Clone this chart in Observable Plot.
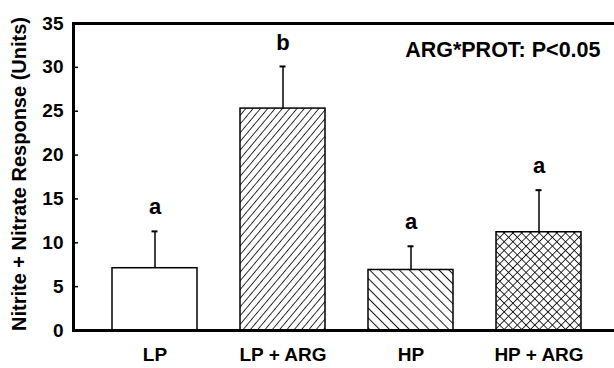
<!DOCTYPE html>
<html>
<head>
<meta charset="utf-8">
<script src="https://cdn.jsdelivr.net/npm/d3@7"></script>
<script src="https://cdn.jsdelivr.net/npm/@observablehq/plot@0.6"></script>
<style>
  html, body { margin: 0; padding: 0; background: #fff; overflow: hidden; }
</style>
</head>
<body>
<div id="chart"></div>
<script>
// ---- data ----
const categories = ["LP", "LP + ARG", "HP", "HP + ARG"];
const means = [7.1, 25.3, 6.9, 11.2];
const uppers = [11.3, 30.1, 9.6, 16.0];
const letters = ["a", "b", "a", "a"];
const yTicks = [0, 5, 10, 15, 20, 25, 30, 35];
const yLabel = "Nitrite + Nitrate Response (Units)";
const annotation = "ARG*PROT: P<0.05";

// ---- styles (kept apart from data) ----
const fillFor = {
  "LP": "white",
  "LP + ARG": "url(#hatchFwd)",
  "HP": "url(#hatchBack)",
  "HP + ARG": "url(#hatchCross)"
};

const rows = categories.map((c, i) => ({cat: c, mean: means[i], upper: uppers[i], letter: letters[i]}));

const font = "'Liberation Sans', Arial, Helvetica, sans-serif";

const plot = Plot.plot({
  width: 614,
  height: 368,
  marginLeft: 73,
  marginRight: 0,
  marginTop: 23,
  marginBottom: 38,
  style: {fontFamily: font, fontWeight: "bold", color: "black", background: "white", overflow: "visible"},
  x: {domain: categories, range: [73, 620], paddingInner: 0.333, paddingOuter: 0.287, label: null},
  y: {domain: [0, 35], label: null},
  color: {type: "identity"},
  marks: [
    Plot.barY(rows, {x: "cat", y: "mean", fill: d => fillFor[d.cat], stroke: "black", strokeWidth: 1.5}),
    Plot.ruleX(rows, {x: "cat", y1: "mean", y2: "upper", stroke: "black", strokeWidth: 1.5}),
    Plot.tickY(rows, {x: "cat", y: "upper", inset: 39.5, stroke: "black", strokeWidth: 2}),
    Plot.text(rows, {x: "cat", y: "upper", text: "letter", dy: -24, fontSize: 22, fontWeight: "bold", fill: "black"}),
    Plot.ruleY([0], {stroke: "black", strokeWidth: 3}),
    Plot.ruleY([35], {stroke: "black", strokeWidth: 3}),
    Plot.frame({anchor: "left", stroke: "black", strokeWidth: 3}),
    Plot.axisY({ticks: yTicks, tickSize: 5, dx: 5, text: null, label: null, strokeWidth: 1.5}),
    Plot.axisY({ticks: yTicks, tickSize: 0, tickPadding: 10, fontSize: 19, fontWeight: "bold", label: null}),
    Plot.axisX({tickSize: 0, tickPadding: 17, fontSize: 19, fontWeight: "bold", label: null}),
    Plot.text([yLabel], {text: d => d, frameAnchor: "left", textAnchor: "middle", lineAnchor: "middle", rotate: -90, dx: -54, dy: -3, fontSize: 20, fontWeight: "bold", fill: "black"}),
    Plot.text([annotation], {text: d => d, frameAnchor: "top-right", textAnchor: "end", lineAnchor: "middle", dx: -14, dy: 27, fontSize: 21.5, fontWeight: "bold", fill: "black"})
  ]
});

// pattern definitions
const defs = d3.select(plot).insert("defs", ":first-child");
function hatch(id, w, angle, sw) {
  const p = defs.append("pattern").attr("id", id).attr("patternUnits", "userSpaceOnUse")
    .attr("width", w).attr("height", w).attr("patternTransform", `rotate(${angle})`);
  p.append("rect").attr("width", w).attr("height", w).attr("fill", "white");
  p.append("line").attr("x1", 0).attr("y1", 0).attr("x2", 0).attr("y2", w).attr("stroke", "black").attr("stroke-width", sw);
}
hatch("hatchFwd", 5.6, 40, 1.6);
hatch("hatchBack", 7, -45, 1.8);
const pc = defs.append("pattern").attr("id", "hatchCross").attr("patternUnits", "userSpaceOnUse")
  .attr("width", 6.2).attr("height", 6.2).attr("patternTransform", "rotate(45)");
pc.append("rect").attr("width", 6.2).attr("height", 6.2).attr("fill", "white");
pc.append("line").attr("x1", 0).attr("y1", 0).attr("x2", 0).attr("y2", 6.2).attr("stroke", "black").attr("stroke-width", 1.6);
pc.append("line").attr("x1", 0).attr("y1", 0).attr("x2", 6.2).attr("y2", 0).attr("stroke", "black").attr("stroke-width", 1.6);

document.getElementById("chart").appendChild(plot);
</script>
</body>
</html>
